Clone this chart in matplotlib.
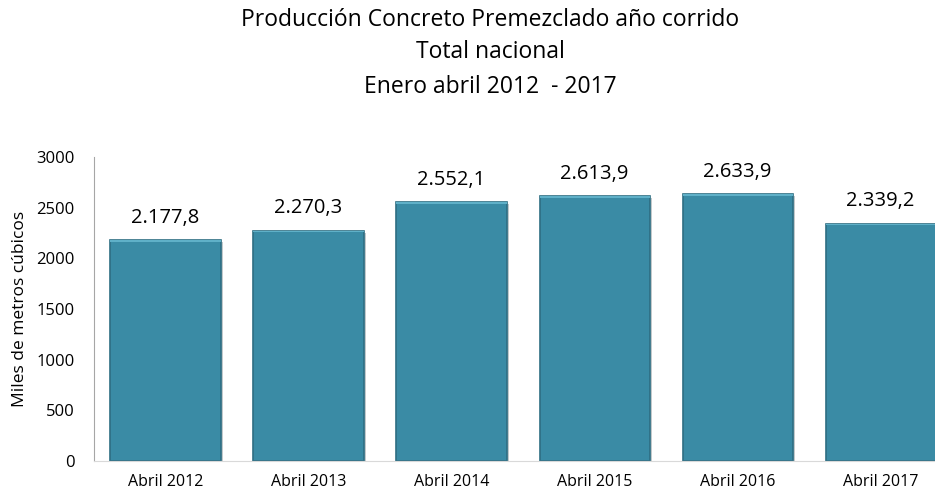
import matplotlib.pyplot as plt
import matplotlib.patheffects as pe

plt.rcParams['font.family'] = ['Open Sans', 'DejaVu Sans']

# datos
periodos = ['Abril 2012', 'Abril 2013', 'Abril 2014', 'Abril 2015', 'Abril 2016', 'Abril 2017']
produccion = [2177.8, 2270.3, 2552.1, 2613.9, 2633.9, 2339.2]
etiquetas = ['2.177,8', '2.270,3', '2.552,1', '2.613,9', '2.633,9', '2.339,2']
yticks = [0, 500, 1000, 1500, 2000, 2500, 3000]

fig = plt.figure(figsize=(9.35, 4.93), dpi=100)
ax = fig.add_axes([0.1005, 0.0649, 0.8995, 0.6166])

x = range(len(periodos))
bars = ax.bar(x, produccion, width=0.77, color='#3a8ba5', edgecolor='#2e6e83', linewidth=1.2,
              path_effects=[pe.SimplePatchShadow(offset=(1.5, -1.5), alpha=0.25), pe.Normal()])
ax.bar(x, [15] * len(x), bottom=[v - 15 for v in produccion], width=0.77, color='#5fb0c8', linewidth=0)

for xi, v, t in zip(x, produccion, etiquetas):
    ax.annotate(t, (xi, v), xytext=(0, 9), textcoords='offset points', ha='center', va='bottom', fontsize=14.5)

ax.set_xlim(-0.5, 5.38)
ax.set_ylim(0, 3000)
ax.set_yticks(yticks)
ax.set_xticks(list(x))
ax.set_xticklabels(periodos, fontsize=11.5)
ax.tick_params(axis='y', labelsize=12, length=0, pad=14)
ax.tick_params(axis='x', length=0, pad=9)
ax.set_ylabel('Miles de metros cúbicos', fontsize=12.5, labelpad=6)

for s in ['top', 'right']:
    ax.spines[s].set_visible(False)
ax.spines['left'].set_color('#a6a6a6')
ax.spines['bottom'].set_color('#d9d9d9')

fig.text(0.524, 1 - 20 / 493, 'Producción Concreto Premezclado año corrido', ha='center', va='center', fontsize=16.5)
fig.text(0.524, 1 - 52 / 493, 'Total nacional', ha='center', va='center', fontsize=16.5)
fig.text(0.524, 1 - 87 / 493, 'Enero abril 2012  - 2017', ha='center', va='center', fontsize=16.5)

fig.savefig('out.png', dpi=100)
